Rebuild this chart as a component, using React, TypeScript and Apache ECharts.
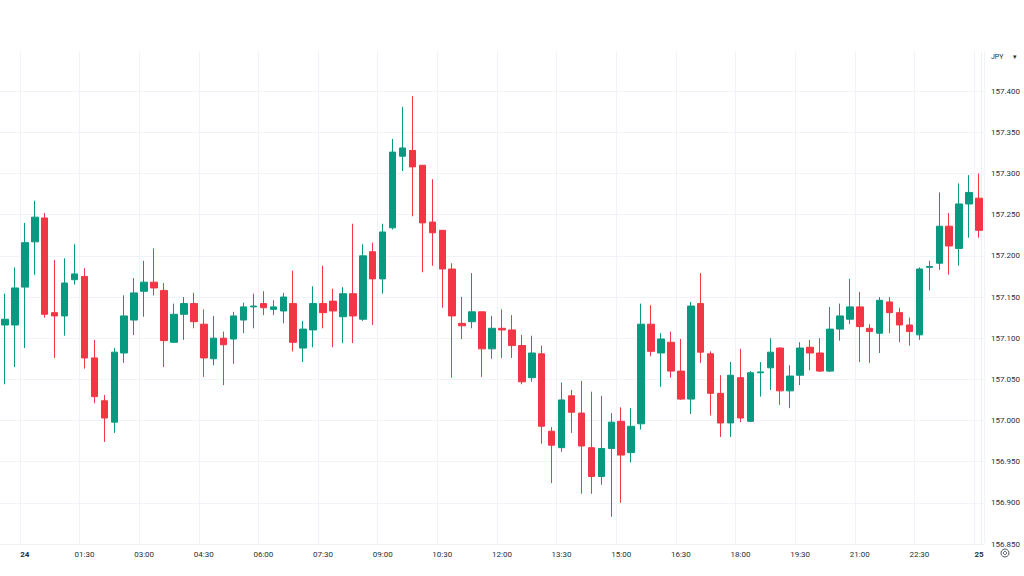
import React, { useEffect, useRef } from "react";
import * as echarts from "echarts";

// 15-minute bars, 23:30 (day 23) .. 00:00 (day 25)
const categories: string[] = [
  "23:30", "23:45",
  "24", "00:15", "00:30", "00:45",
  "01:00", "01:15", "01:30", "01:45",
  "02:00", "02:15", "02:30", "02:45",
  "03:00", "03:15", "03:30", "03:45",
  "04:00", "04:15", "04:30", "04:45",
  "05:00", "05:15", "05:30", "05:45",
  "06:00", "06:15", "06:30", "06:45",
  "07:00", "07:15", "07:30", "07:45",
  "08:00", "08:15", "08:30", "08:45",
  "09:00", "09:15", "09:30", "09:45",
  "10:00", "10:15", "10:30", "10:45",
  "11:00", "11:15", "11:30", "11:45",
  "12:00", "12:15", "12:30", "12:45",
  "13:00", "13:15", "13:30", "13:45",
  "14:00", "14:15", "14:30", "14:45",
  "15:00", "15:15", "15:30", "15:45",
  "16:00", "16:15", "16:30", "16:45",
  "17:00", "17:15", "17:30", "17:45",
  "18:00", "18:15", "18:30", "18:45",
  "19:00", "19:15", "19:30", "19:45",
  "20:00", "20:15", "20:30", "20:45",
  "21:00", "21:15", "21:30", "21:45",
  "22:00", "22:15", "22:30", "22:45",
  "23:00", "23:15", "23:30", "23:45",
  "25",
];

const opens: number[] = [
  157.116, 157.116, 157.162, 157.217, 157.246, 157.131, 157.127, 157.171, 157.175, 157.076,
  157.024, 156.998, 157.082, 157.122, 157.157, 157.168, 157.158, 157.095, 157.129, 157.142,
  157.117, 157.075, 157.100, 157.099, 157.122, 157.138, 157.142, 157.135, 157.133, 157.142,
  157.088, 157.110, 157.142, 157.145, 157.126, 157.154, 157.123, 157.205, 157.172, 157.234,
  157.321, 157.328, 157.310, 157.241, 157.231, 157.184, 157.118, 157.120, 157.132, 157.087,
  157.112, 157.110, 157.091, 157.052, 157.081, 156.987, 156.967, 157.030, 157.009, 156.967,
  156.932, 156.966, 156.999, 156.961, 156.996, 157.117, 157.082, 157.095, 157.060, 157.026,
  157.142, 157.081, 157.033, 156.997, 157.052, 156.999, 157.058, 157.064, 157.088, 157.036,
  157.055, 157.089, 157.082, 157.060, 157.111, 157.123, 157.138, 157.112, 157.106, 157.144,
  157.131, 157.116, 157.104, 157.186, 157.191, 157.236, 157.209, 157.263, 157.270,
];

const closes: number[] = [
  157.123, 157.161, 157.216, 157.247, 157.129, 157.127, 157.167, 157.178, 157.076, 157.029,
  157.003, 157.083, 157.127, 157.155, 157.168, 157.161, 157.097, 157.129, 157.142, 157.120,
  157.076, 157.100, 157.092, 157.127, 157.138, 157.139, 157.137, 157.138, 157.150, 157.095,
  157.111, 157.142, 157.131, 157.133, 157.154, 157.127, 157.200, 157.172, 157.229, 157.326,
  157.331, 157.308, 157.240, 157.228, 157.184, 157.127, 157.115, 157.132, 157.087, 157.112,
  157.110, 157.091, 157.047, 157.082, 156.993, 156.970, 157.025, 157.010, 156.969, 156.932,
  156.966, 156.998, 156.958, 156.993, 157.117, 157.084, 157.099, 157.060, 157.026, 157.139,
  157.083, 157.033, 156.997, 157.055, 157.003, 157.058, 157.059, 157.083, 157.036, 157.054,
  157.088, 157.082, 157.060, 157.111, 157.127, 157.138, 157.114, 157.108, 157.146, 157.131,
  157.116, 157.108, 157.184, 157.187, 157.236, 157.212, 157.263, 157.277, 157.231,
];

const lows: number[] = [
  157.044, 157.065, 157.088, 157.177, 157.125, 157.076, 157.103, 157.165, 157.063, 157.021,
  156.974, 156.985, 157.070, 157.104, 157.126, 157.152, 157.065, 157.094, 157.098, 157.112,
  157.053, 157.067, 157.043, 157.069, 157.106, 157.112, 157.128, 157.128, 157.118, 157.084,
  157.071, 157.089, 157.112, 157.089, 157.094, 157.094, 157.121, 157.116, 157.154, 157.232,
  157.303, 157.248, 157.180, 157.188, 157.137, 157.052, 157.099, 157.112, 157.053, 157.075,
  157.076, 157.076, 157.044, 157.047, 156.972, 156.924, 156.962, 156.985, 156.911, 156.911,
  156.922, 156.883, 156.900, 156.949, 156.989, 157.078, 157.041, 157.052, 157.025, 157.008,
  157.070, 157.006, 156.980, 156.980, 156.998, 156.998, 157.029, 157.037, 157.019, 157.015,
  157.043, 157.061, 157.059, 157.059, 157.097, 157.117, 157.071, 157.070, 157.082, 157.106,
  157.095, 157.091, 157.098, 157.158, 157.183, 157.177, 157.188, 157.222, 157.222,
];

const highs: number[] = [
  157.154, 157.186, 157.240, 157.267, 157.252, 157.195, 157.197, 157.214, 157.185, 157.098,
  157.031, 157.088, 157.152, 157.173, 157.194, 157.209, 157.167, 157.142, 157.150, 157.155,
  157.135, 157.127, 157.108, 157.132, 157.143, 157.154, 157.157, 157.146, 157.155, 157.182,
  157.121, 157.163, 157.188, 157.160, 157.162, 157.239, 157.214, 157.216, 157.239, 157.342,
  157.381, 157.394, 157.310, 157.293, 157.231, 157.191, 157.150, 157.179, 157.132, 157.127,
  157.135, 157.128, 157.104, 157.103, 157.091, 156.992, 157.046, 157.037, 157.048, 157.035,
  157.030, 157.009, 157.016, 157.015, 157.142, 157.140, 157.106, 157.108, 157.099, 157.144,
  157.179, 157.084, 157.055, 157.071, 157.087, 157.060, 157.071, 157.100, 157.089, 157.067,
  157.095, 157.098, 157.100, 157.138, 157.142, 157.172, 157.156, 157.117, 157.150, 157.150,
  157.137, 157.125, 157.186, 157.194, 157.277, 157.252, 157.288, 157.298, 157.300,
];

const yMin = 156.85;
const yMax = 157.45;
const yStep = 0.05;
const currency = "JPY";

const UP = "#089981";
const DOWN = "#f23645";
const GRID = "#f0f3fa";
const TEXT = "#2a2e39";

export default function App() {
  const ref = useRef<HTMLDivElement>(null);

  useEffect(() => {
    document.body.style.margin = "0";
    if (!ref.current) return;
    const chart = echarts.init(ref.current, null, { renderer: "svg" });
    const data = opens.map((o, i) => [o, closes[i], lows[i], highs[i]]);
    const labelInterval = (index: number) => (index - 2) % 6 === 0;

    chart.setOption({
      animation: false,
      backgroundColor: "#ffffff",
      grid: { left: -3, right: 40, top: 50, bottom: 32, containLabel: false },
      xAxis: {
        type: "category",
        data: categories,
        boundaryGap: true,
        axisLine: { show: true, lineStyle: { color: "#f0f2f6" } },
        axisTick: { show: false },
        splitLine: { show: true, interval: labelInterval, lineStyle: { color: GRID, width: 1 } },
        axisLabel: {
          interval: labelInterval,
          margin: 6,
          fontFamily: "Roboto, sans-serif",
          fontSize: 8,
          color: TEXT,
          formatter: (v: string) => (v.length <= 2 ? "{d|" + v + "}" : v),
          rich: { d: { fontWeight: "bold", fontSize: 8, color: TEXT, fontFamily: "Roboto, sans-serif" } },
        },
      },
      yAxis: {
        type: "value",
        position: "right",
        min: yMin,
        max: yMax,
        interval: yStep,
        scale: true,
        axisLine: { show: false },
        axisTick: { show: false },
        splitLine: { show: true, lineStyle: { color: GRID, width: 1 } },
        axisLabel: {
          showMaxLabel: false,
          showMinLabel: true,
          margin: 7,
          fontFamily: "Roboto, sans-serif",
          fontSize: 8,
          color: TEXT,
          formatter: (v: number) => v.toFixed(3),
        },
      },
      series: [
        {
          type: "candlestick",
          data,
          barWidth: 7,
          itemStyle: {
            color: UP,
            color0: DOWN,
            borderColor: UP,
            borderColor0: DOWN,
            borderWidth: 1,
          },
        },
      ],
      graphic: [
        {
          type: "rect",
          shape: { x: 0, y: 48, width: 1024, height: 3 },
          style: { fill: "#ffffff" },
          silent: true,
          z: 100,
        },
        {
          type: "line",
          shape: { x1: 981.5, y1: 51, x2: 981.5, y2: 544 },
          style: { stroke: "#eef0f4", lineWidth: 1 },
          silent: true,
          z: -1,
        },
        {
          type: "text",
          left: 991,
          top: 53,
          style: { text: currency, fontSize: 7, fill: TEXT, fontFamily: "Roboto, sans-serif" },
          z: 101,
        },
        {
          type: "text",
          left: 1013,
          top: 53,
          style: { text: "▾", fontSize: 7, fill: TEXT, fontFamily: "DejaVu Sans, sans-serif" },
          z: 101,
        },
        {
          type: "circle",
          shape: { cx: 1005, cy: 553, r: 4 },
          style: { fill: "none", stroke: "#555a66", lineWidth: 1 },
        },
        {
          type: "circle",
          shape: { cx: 1005, cy: 553, r: 1.6 },
          style: { fill: "none", stroke: "#555a66", lineWidth: 1 },
        },
      ],
    });

    return () => chart.dispose();
  }, []);

  return <div ref={ref} style={{ width: 1024, height: 576 }} />;
}
